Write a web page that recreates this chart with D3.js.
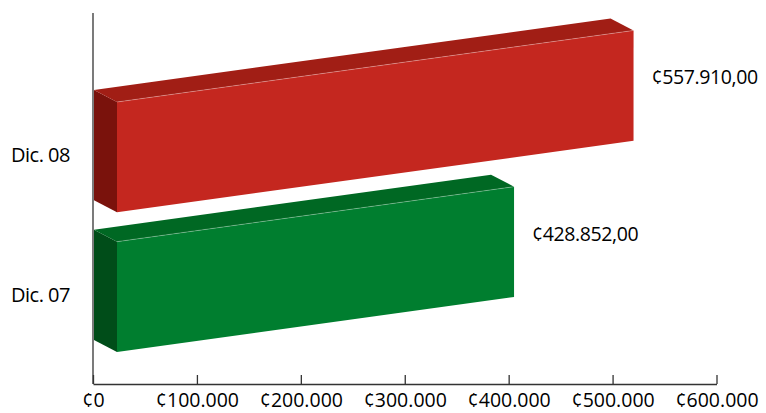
<!DOCTYPE html>
<html>
<head>
<meta charset="utf-8">
<title>Dic. 07 / Dic. 08</title>
<script src="https://d3js.org/d3.v7.min.js"></script>
<style>
  body { margin: 0; background: #fff; }
  text { font-family: "Open Sans", sans-serif; fill: #000; }
</style>
</head>
<body>
<script>
// data
var categories = ["Dic. 08", "Dic. 07"];
var values = [557910, 428852];
var valueLabels = ["¢557.910,00", "¢428.852,00"];
var tickValues = [0, 100000, 200000, 300000, 400000, 500000, 600000];
var tickLabels = ["¢0", "¢100.000", "¢200.000", "¢300.000", "¢400.000", "¢500.000", "¢600.000"];

var frontColors = ["#C4271F", "#007E2F"];
var topColors = ["#A11E15", "#006823"];
var sideColors = ["#7A120C", "#004D19"];

var w = 766, h = 413;
var x0 = 93;          // where the axis starts
var baseY = 384;      // x axis line
var depthX = 23, depthY = 12;   // 3d offset of back face
var slope = 0.1385;   // the bars lean up to the right

var svg = d3.select("body").append("svg")
    .attr("width", w)
    .attr("height", h);

// axis scale (front plane)
var x = d3.scaleLinear().domain([0, 600000]).range([x0, 716.5]);
// bars sit deeper so they are drawn a bit shorter
var barLen = d3.scaleLinear().domain([0, 600000]).range([0, 555.5]);
var y = d3.scaleBand().domain(categories).range([102, 352]).paddingInner(0.21).paddingOuter(0);

var bars = svg.selectAll("g.bar")
    .data(values)
    .enter()
    .append("g")
    .attr("class", "bar");

function pts(arr) { return arr.map(function(p) { return p.join(","); }).join(" "); }

// side face
bars.append("polygon")
    .attr("fill", function(d, i) { return sideColors[i]; })
    .attr("points", function(d, i) {
        var t = y(categories[i]), bh = y.bandwidth();
        var bx = x0 + 1;
        return pts([[bx, t - depthY], [bx + depthX, t], [bx + depthX, t + bh], [bx, t + bh - depthY]]);
    });

// top face
bars.append("polygon")
    .attr("fill", function(d, i) { return topColors[i]; })
    .attr("points", function(d, i) {
        var t = y(categories[i]), L = barLen(d);
        var bx = x0 + 1;
        return pts([[bx, t - depthY], [bx + L, t - depthY - slope * L],
                     [bx + depthX + L, t - slope * L], [bx + depthX, t]]);
    });

// front face
bars.append("polygon")
    .attr("fill", function(d, i) { return frontColors[i]; })
    .attr("points", function(d, i) {
        var t = y(categories[i]), bh = y.bandwidth(), L = barLen(d);
        var fx = x0 + 1 + depthX;
        return pts([[fx, t], [fx + L, t - slope * L], [fx + L, t - slope * L + bh], [fx, t + bh]]);
    });

// light edge between top and front
bars.append("line")
    .attr("x1", x0 + 1 + depthX)
    .attr("y1", function(d, i) { return y(categories[i]); })
    .attr("x2", function(d) { return x0 + 1 + depthX + barLen(d); })
    .attr("y2", function(d, i) { return y(categories[i]) - slope * barLen(d); })
    .attr("stroke", "#fff")
    .attr("stroke-opacity", 0.35)
    .attr("stroke-width", 0.8);

// value labels
bars.append("text")
    .text(function(d, i) { return valueLabels[i]; })
    .attr("x", function(d) { return x0 + 1 + depthX + barLen(d) + 18; })
    .attr("y", function(d, i) {
        var t = y(categories[i]), L = barLen(d);
        return t - slope * L + y.bandwidth() / 2 - 8;
    })
    .attr("dy", "0.35em")
    .attr("font-size", 19.5)
    .attr("letter-spacing", -0.4);

// category labels
svg.selectAll("text.cat")
    .data(categories)
    .enter()
    .append("text")
    .attr("class", "cat")
    .text(function(d) { return d; })
    .attr("x", 70)
    .attr("y", function(d) { return y(d) + y.bandwidth() / 2 - 2; })
    .attr("dy", "0.35em")
    .attr("text-anchor", "end")
    .attr("font-size", 20)
    .attr("letter-spacing", -0.5);

// y axis line
svg.append("line")
    .attr("x1", x0).attr("x2", x0)
    .attr("y1", 13).attr("y2", baseY)
    .attr("stroke", "#333")
    .attr("stroke-width", 1.3);

// x axis
var xAxis = d3.axisTop(x)
    .tickValues(tickValues)
    .tickSize(9)
    .tickSizeOuter(0)
    .tickFormat(function(d, i) { return tickLabels[i]; });

var gx = svg.append("g")
    .attr("transform", "translate(0," + baseY + ")")
    .call(xAxis);
gx.select(".domain").attr("stroke", "#333").attr("stroke-width", 1.3);
gx.selectAll(".tick line").attr("stroke", "#333").attr("stroke-width", 1.3);
gx.selectAll(".tick text")
    .attr("y", 23)
    .attr("dy", 0)
    .attr("font-size", 19.5)
    .attr("font-family", "Open Sans, sans-serif")
    .attr("fill", "#000");
</script>
</body>
</html>
